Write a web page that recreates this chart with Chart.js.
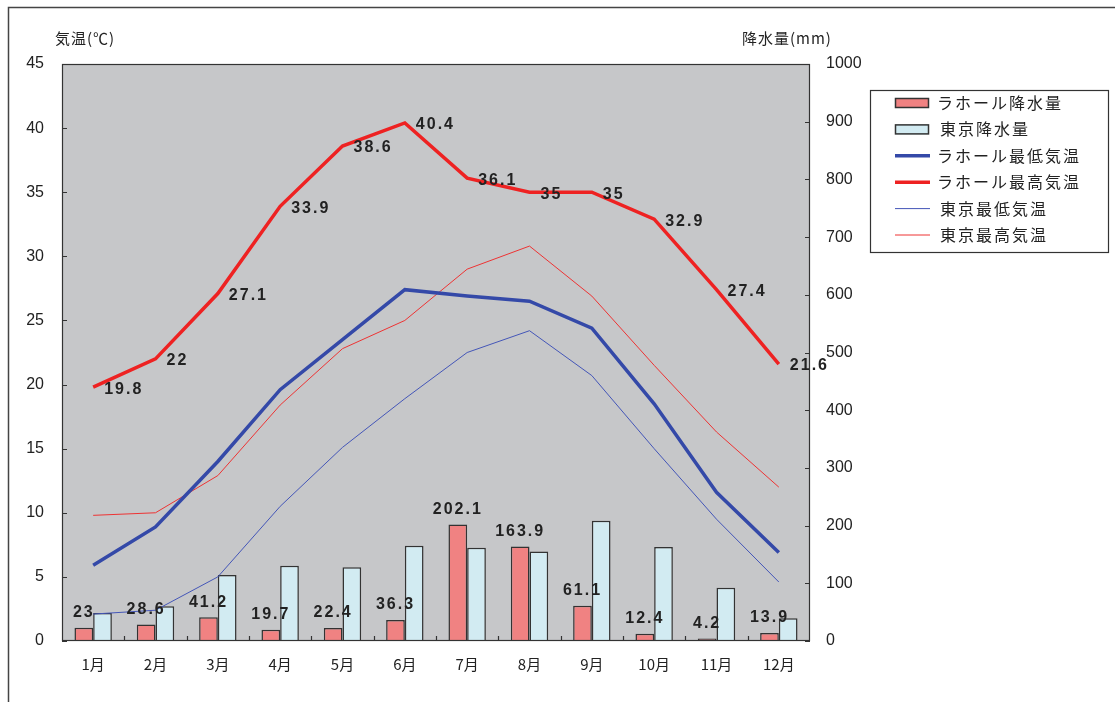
<!DOCTYPE html>
<html lang="ja">
<head>
  <meta charset="UTF-8">
  <title>ラホールと東京の気温・降水量</title>
  <script src="https://cdn.jsdelivr.net/npm/chart.js"></script>
  <style>
    body { margin: 0; background: #fff; }
    .wrap { width: 1115px; height: 702px; position: relative; }
  </style>
</head>
<body>
  <div class="wrap"><canvas id="chart"></canvas></div>
  <script>
    const months = ['1月', '2月', '3月', '4月', '5月', '6月', '7月', '8月', '9月', '10月', '11月', '12月'];
    const lahoreRain = [23, 28.6, 41.2, 19.7, 22.4, 36.3, 202.1, 163.9, 61.1, 12.4, 4.2, 13.9];
    const tokyoRain = [48.6, 60.2, 114.5, 130.3, 128.0, 164.9, 161.5, 155.1, 208.5, 163.1, 92.5, 39.6];
    const lahoreMin = [5.9, 8.9, 14.0, 19.6, 23.5, 27.4, 26.9, 26.5, 24.4, 18.5, 11.6, 6.9];
    const lahoreMax = [19.8, 22, 27.1, 33.9, 38.6, 40.4, 36.1, 35, 35, 32.9, 27.4, 21.6];
    const tokyoMin = [2.1, 2.4, 5.0, 10.5, 15.1, 18.9, 22.5, 24.2, 20.7, 15.0, 9.5, 4.6];
    const tokyoMax = [9.8, 10.0, 12.9, 18.4, 22.8, 25.0, 29.0, 30.8, 26.9, 21.5, 16.3, 12.0];

    const FONT = "'Noto Sans CJK JP', 'Liberation Sans', sans-serif";
    const TEXT = '#222';

    // gray plot area, outer frame, axis titles, inner tick marks
    const frame = {
      id: 'frame',
      beforeDraw(chart) {
        const { ctx, chartArea: a } = chart;
        ctx.save();
        ctx.fillStyle = '#c6c7c9';
        ctx.fillRect(a.left, a.top, a.right - a.left, a.bottom - a.top);
        ctx.strokeStyle = '#444';
        ctx.lineWidth = 1.5;
        ctx.beginPath();
        ctx.moveTo(8.5, 702);
        ctx.lineTo(8.5, 7.5);
        ctx.lineTo(1115, 7.5);
        ctx.stroke();
        ctx.fillStyle = TEXT;
        ctx.font = '15px ' + FONT;
        ctx.textBaseline = 'middle';
        ctx.letterSpacing = '1px';
        ctx.fillText('気温(℃)', 55, 38);
        ctx.fillText('降水量(mm)', 742, 38);
        ctx.restore();
      },
      afterDraw(chart) {
        const { ctx, chartArea: a, scales } = chart;
        ctx.save();
        ctx.strokeStyle = '#333';
        ctx.lineWidth = 1.2;
        ctx.strokeRect(a.left + 0.5, a.top + 0.5, a.right - a.left - 1, a.bottom - a.top - 1);
        ctx.beginPath();
        scales.y.ticks.forEach(t => {
          const y = Math.round(scales.y.getPixelForValue(t.value)) + 0.5;
          ctx.moveTo(a.left, y); ctx.lineTo(a.left + 5, y);
        });
        scales.y1.ticks.forEach(t => {
          const y = Math.round(scales.y1.getPixelForValue(t.value)) + 0.5;
          ctx.moveTo(a.right, y); ctx.lineTo(a.right - 5, y);
        });
        const step = (a.right - a.left) / months.length;
        for (let i = 1; i < months.length; i++) {
          const x = Math.round(a.left + step * i) + 0.5;
          ctx.moveTo(x, a.bottom); ctx.lineTo(x, a.bottom - 5);
        }
        ctx.stroke();
        ctx.restore();
      }
    };

    // value labels on Lahore max line and Lahore rain bars
    const valueLabels = {
      id: 'valueLabels',
      afterDatasetsDraw(chart) {
        const { ctx } = chart;
        ctx.save();
        ctx.fillStyle = TEXT;
        ctx.font = "bold 16px 'Liberation Sans', sans-serif";
        ctx.letterSpacing = '2px';
        ctx.textBaseline = 'middle';
        const maxMeta = chart.getDatasetMeta(3);
        ctx.textAlign = 'left';
        maxMeta.data.forEach((p, i) => {
          ctx.fillText(String(lahoreMax[i]), p.x + 11, p.y + 2);
        });
        const rainMeta = chart.getDatasetMeta(0);
        ctx.textAlign = 'center';
        rainMeta.data.forEach((b, i) => {
          ctx.fillText(String(lahoreRain[i]), b.x, b.y - 15);
        });
        ctx.restore();
      }
    };

    // boxed legend at the right
    const boxLegend = {
      id: 'boxLegend',
      afterDraw(chart) {
        const { ctx } = chart;
        const ds = chart.data.datasets;
        ctx.save();
        ctx.strokeStyle = '#333';
        ctx.lineWidth = 1.2;
        ctx.strokeRect(870.5, 90.5, 238, 162);
        ctx.font = '16px ' + FONT;
        ctx.letterSpacing = '2px';
        ctx.textBaseline = 'middle';
        ctx.fillStyle = TEXT;
        ds.forEach((d, i) => {
          const y = 103 + i * 26.4;
          if (d.type === 'bar') {
            ctx.fillStyle = d.backgroundColor;
            ctx.fillRect(895, y - 5, 34, 10);
            ctx.strokeStyle = '#333';
            ctx.lineWidth = 1.5;
            ctx.strokeRect(895.5, y - 4.5, 33, 9);
          } else {
            ctx.strokeStyle = d.borderColor;
            ctx.lineWidth = d.borderWidth;
            ctx.beginPath();
            ctx.moveTo(895, y); ctx.lineTo(930, y);
            ctx.stroke();
          }
          ctx.fillStyle = TEXT;
          ctx.fillText(d.label, d.label.startsWith('東京') ? 940 : 937, y);
        });
        ctx.restore();
      }
    };

    new Chart(document.getElementById('chart'), {
      data: {
        labels: months,
        datasets: [
          { type: 'bar', label: 'ラホール降水量', data: lahoreRain, yAxisID: 'y1', order: 2,
            backgroundColor: '#f08282', borderColor: '#333', borderWidth: 1.5 },
          { type: 'bar', label: '東京降水量', data: tokyoRain, yAxisID: 'y1', order: 2,
            backgroundColor: '#d2ebf2', borderColor: '#333', borderWidth: 1.5 },
          { type: 'line', label: 'ラホール最低気温', data: lahoreMin, yAxisID: 'y', order: 1,
            borderColor: '#3449a8', borderWidth: 3.5, pointRadius: 0, tension: 0 },
          { type: 'line', label: 'ラホール最高気温', data: lahoreMax, yAxisID: 'y', order: 1,
            borderColor: '#ee2222', borderWidth: 3.5, pointRadius: 0, tension: 0 },
          { type: 'line', label: '東京最低気温', data: tokyoMin, yAxisID: 'y', order: 1,
            borderColor: '#4456b8', borderWidth: 1, pointRadius: 0, tension: 0 },
          { type: 'line', label: '東京最高気温', data: tokyoMax, yAxisID: 'y', order: 1,
            borderColor: '#ee3333', borderWidth: 1, pointRadius: 0, tension: 0 }
        ]
      },
      options: {
        responsive: true,
        maintainAspectRatio: false,
        animation: false,
        layout: { padding: { top: 64, left: 0, right: 0, bottom: 0 } },
        datasets: { bar: { categoryPercentage: 0.6, barPercentage: 1.0 } },
        plugins: { legend: { display: false }, tooltip: { enabled: false } },
        scales: {
          x: {
            grid: { display: false, drawTicks: false },
            border: { display: false },
            ticks: { color: TEXT, font: { family: FONT, size: 15 }, padding: 14, maxRotation: 0 },
            afterFit(s) { s.height = 61; }
          },
          y: {
            position: 'left', min: 0, max: 45,
            grid: { display: false, drawTicks: false },
            border: { display: false },
            ticks: { stepSize: 5, color: TEXT, font: { family: "'Liberation Sans', sans-serif", size: 16 }, padding: 18 },
            afterFit(s) { s.width = 62; }
          },
          y1: {
            position: 'right', min: 0, max: 1000,
            grid: { display: false, drawTicks: false },
            border: { display: false },
            ticks: { stepSize: 100, color: TEXT, font: { family: "'Liberation Sans', sans-serif", size: 16 }, padding: 16,
              callback: v => String(v) },
            afterFit(s) { s.width = 305; }
          }
        }
      },
      plugins: [frame, valueLabels, boxLegend]
    });
  </script>
</body>
</html>
